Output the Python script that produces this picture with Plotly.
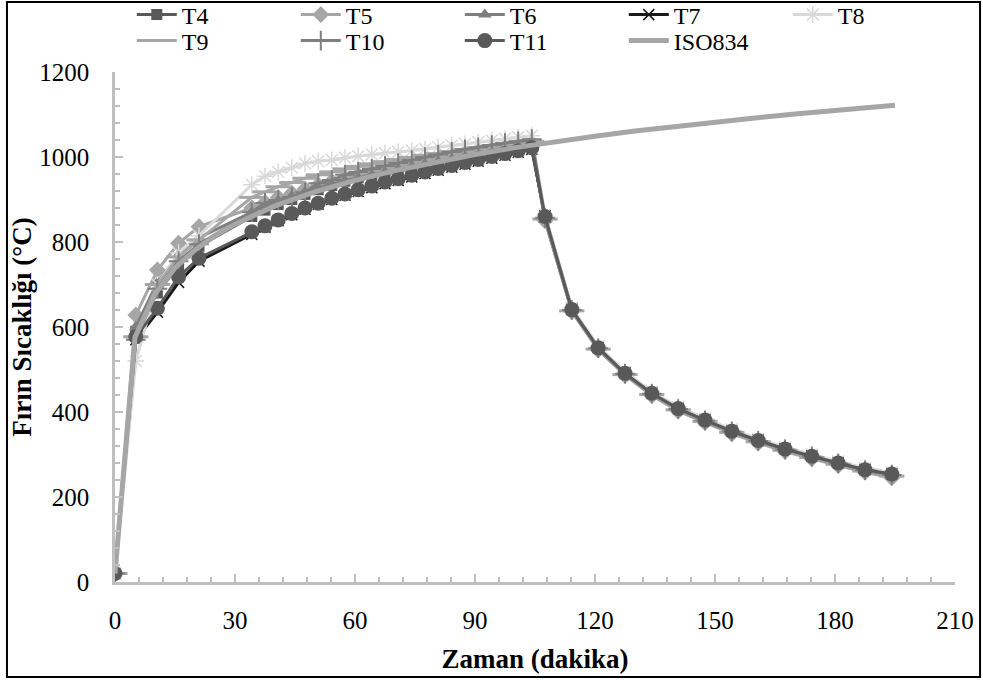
import plotly.graph_objects as go

# ---- data ----
t_pre = [0, 5.2, 10.6, 15.9, 21.0, 34.2, 37.5, 40.8, 44.2, 47.5, 50.8, 54.2, 57.5, 60.8,
         64.2, 67.5, 70.8, 74.2, 77.5, 80.8, 84.2, 87.5, 90.8, 94.2, 97.5, 100.8, 104.2]
t_post = [107.5, 114.2, 120.8, 127.5, 134.2, 140.8, 147.5, 154.2, 160.8, 167.5, 174.2,
          180.8, 187.5, 194.2]
time = t_pre + t_post

T4 = [20, 590, 680, 745, 790, 860, 875, 888, 900, 912, 923, 933, 943, 951, 958, 965, 971,
      977, 983, 989, 995, 1000, 1006, 1011, 1016, 1022, 1027,
      858, 640, 550, 490, 443, 407, 380, 354, 332, 312, 295, 279, 263, 252]
T5 = [20, 628, 734, 797, 836, 880, 893, 905, 915, 925, 934, 943, 951, 958, 965, 972, 978,
      984, 990, 996, 1002, 1008, 1013, 1018, 1023, 1028, 1033,
      850, 636, 546, 486, 439, 402, 375, 349, 327, 307, 290, 274, 258, 245]
T6 = [20, 600, 705, 770, 810, 870, 885, 897, 908, 918, 927, 936, 944, 951, 958, 965, 972,
      978, 984, 990, 996, 1002, 1008, 1013, 1018, 1023, 1028,
      852, 638, 548, 488, 441, 405, 378, 352, 330, 310, 293, 277, 261, 249]
T7 = [20, 570, 635, 705, 755, 818, 835, 850, 864, 877, 889, 900, 910, 919, 928, 937, 945,
      953, 961, 969, 976, 983, 990, 997, 1004, 1011, 1018,
      862, 643, 553, 493, 446, 410, 383, 357, 335, 315, 298, 282, 266, 256]
T8 = [20, 520, 700, 775, 815, 935, 955, 965, 975, 985, 990, 993, 998, 1002, 1006, 1009, 1012,
      1015, 1019, 1023, 1027, 1031, 1035, 1039, 1043, 1047, 1050,
      865, 645, 555, 495, 448, 412, 385, 359, 337, 317, 300, 284, 268, 258]
T9 = [20, 577, 700, 765, 805, 905, 918, 930, 940, 950, 958, 965, 972, 978, 984, 989, 994,
      999, 1004, 1008, 1013, 1017, 1021, 1025, 1029, 1033, 1037,
      854, 638, 548, 488, 441, 405, 378, 352, 330, 310, 293, 277, 261, 249]
T10 = [20, 570, 690, 755, 795, 870, 892, 899, 906, 917, 938, 946, 958, 965, 972, 979, 986,
       993, 1000, 1006, 1012, 1018, 1023, 1028, 1033, 1037, 1042,
       857, 640, 550, 490, 443, 407, 380, 354, 332, 312, 295, 279, 263, 252]
T11 = [20, 577, 644, 718, 762, 824, 838, 852, 867, 880, 891, 903, 913, 923, 932, 941, 949,
       957, 965, 973, 980, 987, 994, 1001, 1008, 1015, 1022,
       860, 641, 551, 491, 444, 408, 381, 355, 333, 313, 296, 280, 264, 254]

iso_time = [0, 5, 10, 15, 20, 25, 30, 40, 50, 60, 70, 80, 90, 100, 110, 120, 130, 140,
            150, 160, 170, 180, 190, 195]
ISO834 = [20, 576, 678, 739, 781, 815, 842, 885, 918, 945, 968, 988, 1006, 1022, 1036,
          1049, 1061, 1072, 1082, 1092, 1101, 1110, 1118, 1122]

x_ticks = [0, 30, 60, 90, 120, 150, 180, 210]
y_ticks = [0, 200, 400, 600, 800, 1000, 1200]

FONT = "Liberation Serif"

series = [
    ("T4", T4, "#595959", "square", 11, None, "legend"),
    ("T5", T5, "#a6a6a6", "diamond", 13, None, "legend"),
    ("T6", T6, "#7f7f7f", "triangle-up", 12, None, "legend"),
    ("T7", T7, "#1a1a1a", "x-thin", 11, 1.5, "legend"),
    ("T8", T8, "#d9d9d9", "asterisk", 14, 1.5, "legend"),
    ("T9", T9, "#a6a6a6", "line-ew", 18, 3, "legend2"),
    ("T10", T10, "#7f7f7f", "cross-thin", 14, 2, "legend2"),
    ("T11", T11, "#595959", "circle", 15, None, "legend2"),
]

fig = go.Figure()
for name, vals, col, sym, size, lw, leg in series:
    marker = dict(symbol=sym, size=size, color=col)
    if lw is not None:
        marker["line"] = dict(color=col, width=lw)
    fig.add_trace(go.Scatter(x=time, y=vals, name=name, mode="lines+markers",
                             line=dict(color=col, width=3), marker=marker, legend=leg))

fig.add_trace(go.Scatter(x=iso_time, y=ISO834, name="ISO834", mode="lines",
                         line=dict(color="#a6a6a6", width=5), legend="legend2"))

# layout geometry (pixels): plot area x 115..955, y 72..582
PLOT_TOP, PLOT_BOTTOM = 72.0, 582.0
def py(pix):
    return (PLOT_BOTTOM - pix) / (PLOT_BOTTOM - PLOT_TOP)

axis_col = "#bfbfbf"
leg_common = dict(orientation="h", x=0.02, xanchor="left",
                  yanchor="middle", entrywidth=109, entrywidthmode="pixels",
                  font=dict(family=FONT, size=24), bgcolor="rgba(0,0,0,0)",
                  itemwidth=40)
fig.update_layout(
    width=983, height=680,
    margin=dict(l=115, r=28, t=72, b=98, pad=0, autoexpand=False),
    paper_bgcolor="white", plot_bgcolor="white",
    font=dict(family=FONT, size=25, color="black"),
    showlegend=True,
    legend=dict(leg_common, y=py(15)),
    legend2=dict(leg_common, y=py(41)),
    xaxis=dict(range=[0, 210], tickvals=x_ticks, showgrid=False, zeroline=False,
               showline=True, linecolor=axis_col, linewidth=2.5,
               ticks="inside", ticklen=8, tickwidth=2, tickcolor=axis_col,
               minor=dict(dtick=6, ticks="inside", ticklen=5, tickwidth=1.5,
                          tickcolor=axis_col, showgrid=False),
               ticklabelstandoff=14,
               tickfont=dict(family=FONT, size=25),
               title=dict(text="<b>Zaman (dakika)</b>", standoff=17,
                          font=dict(family=FONT, size=27))),
    yaxis=dict(range=[0, 1200], tickvals=y_ticks, showgrid=False, zeroline=False,
               showline=True, linecolor=axis_col, linewidth=2.5,
               ticks="inside", ticklen=8, tickwidth=2, tickcolor=axis_col,
               minor=dict(dtick=40, ticks="inside", ticklen=5, tickwidth=1.5,
                          tickcolor=axis_col, showgrid=False),
               ticklabelstandoff=18,
               tickfont=dict(family=FONT, size=25),
               title=dict(text="<b>Fırın Sıcaklığı (°C)</b>", standoff=0,
                          font=dict(family=FONT, size=27))),
    shapes=[dict(type="rect", xref="paper", yref="paper",
                 x0=-0.1286, x1=1.0298, y0=py(677), y1=py(2),
                 line=dict(color="black", width=2), fillcolor="rgba(0,0,0,0)",
                 layer="above")],
)

fig.write_html("out.html", config={"displayModeBar": False},
               post_script="document.body.style.margin='0';")
